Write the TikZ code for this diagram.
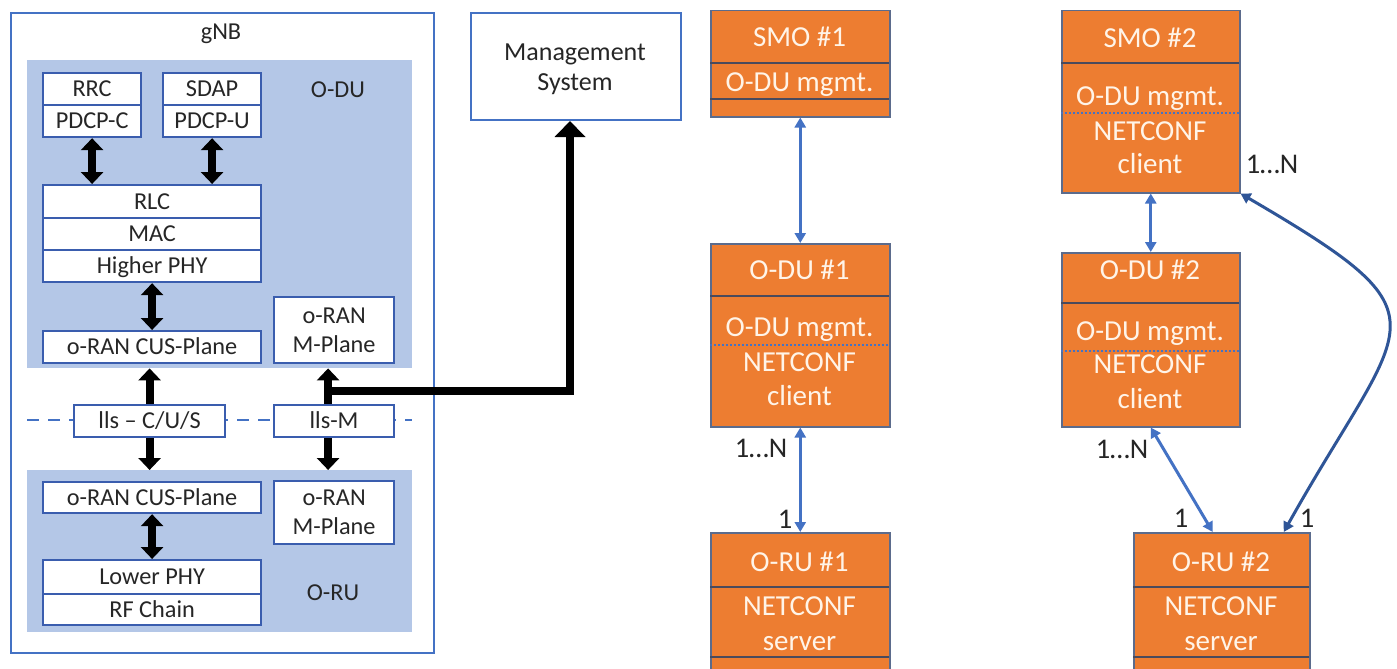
\documentclass[tikz,border=0pt]{standalone}
\usepackage{fontspec}
\setmainfont{Carlito}
\usetikzlibrary{arrows.meta}
\definecolor{frameblue}{HTML}{4472C4}
\definecolor{boxblue}{HTML}{3A5DAE}
\definecolor{regionblue}{HTML}{B4C7E7}
\definecolor{orangefill}{HTML}{ED7D31}
\definecolor{orangeedge}{HTML}{5B6B8C}
\definecolor{orangediv}{HTML}{4A4A5C}
\definecolor{orangetext}{HTML}{FFF4E8}
\definecolor{linkblue}{HTML}{4472C4}
\definecolor{curveblue}{HTML}{2F5597}
\definecolor{inktext}{HTML}{262626}

\begin{document}
\begin{tikzpicture}[x=1pt,y=-1pt,
  lefttxt/.style={font=\fontsize{24.3}{29}\selectfont, text=inktext},
  frame/.style={draw=frameblue, line width=2pt, fill=white, anchor=north west, inner sep=0pt},
  region/.style={fill=regionblue, anchor=north west, inner sep=0pt},
  layer/.style={draw=boxblue, line width=2.2pt, fill=white, anchor=north west, inner sep=0pt,
                lefttxt, text height=15pt, text depth=0pt},
  plane/.style={draw=boxblue, line width=2.2pt, fill=white, anchor=north west, inner sep=0pt,
                lefttxt, align=center},
  tag/.style={lefttxt, anchor=base, inner sep=0pt},
  obox/.style={draw=orangeedge, line width=1.5pt, fill=orangefill, anchor=north west, inner sep=0pt},
  odiv/.style={draw=orangediv, line width=1.5pt},
  odot/.style={draw=linkblue, line width=1.5pt, dash pattern=on 2pt off 2pt},
  otxt/.style={font=\fontsize{29}{33}\selectfont, text=orangetext, anchor=base, inner sep=0pt},
  lbl/.style={font=\fontsize{28.5}{33}\selectfont, text=inktext, anchor=base, inner sep=0pt},
  blk/.style={draw=black, line width=8pt, >={Triangle[width=22pt 0 0,length=12pt 0 0]}},
  link/.style={draw=linkblue, line width=3pt, >={Triangle[width=11pt 0 0,length=10pt 0 0]}},
  dashln/.style={draw=frameblue, line width=2pt, dash pattern=on 12pt off 9pt}
]
\fill[white] (0,0) rectangle (1397,669);
\useasboundingbox (0,0) rectangle (1397,669);

% ---------------- gNB split ----------------
\node[frame, minimum width=423pt, minimum height=640pt] (gnb) at (10,12) {};
\node[tag] (gnbt) at (221,40) {gNB};

\node[region, minimum width=385pt, minimum height=308pt] (odureg) at (27,60) {};
\node[region, minimum width=385pt, minimum height=162pt] (orureg) at (27,470) {};
\node[tag] (odut) at (338,97) {O-DU};
\node[tag] (orut) at (333,600) {O-RU};

% O-DU stack
\node[layer, minimum width=98pt, minimum height=32pt] (rrc) at (42,72) {RRC};
\node[layer, minimum width=98pt, minimum height=32pt] (pdcpc) at (42,104) {PDCP-C};
\node[layer, minimum width=98pt, minimum height=32pt] (sdap) at (162,72) {SDAP};
\node[layer, minimum width=98pt, minimum height=32pt] (pdcpu) at (162,104) {PDCP-U};
\node[layer, minimum width=218pt, minimum height=33pt] (rlc) at (42,184) {RLC};
\node[layer, minimum width=218pt, minimum height=32pt] (mac) at (42,217) {MAC};
\node[layer, minimum width=218pt, minimum height=32pt] (hphy) at (42,249) {Higher PHY};
\node[layer, minimum width=218pt, minimum height=32pt] (cusdu) at (42,330) {o-RAN CUS-Plane};
\node[plane, minimum width=120pt, minimum height=66pt] (mpdu) at (273,296) {o-RAN\\M-Plane};

% split line and interfaces
\draw[dashln] (odureg.west |- 0,420) -- (odureg.east |- 0,420);
\node[layer, minimum width=151pt, minimum height=32pt] (ilscus) at (73,404) {lls – C/U/S};
\node[layer, minimum width=120pt, minimum height=32pt] (ilsm) at (273,404) {lls-M};

% O-RU stack
\node[layer, minimum width=218pt, minimum height=31pt] (cusru) at (42,481) {o-RAN CUS-Plane};
\node[plane, minimum width=120pt, minimum height=63pt] (mpru) at (273,480) {o-RAN\\M-Plane};
\node[layer, minimum width=218pt, minimum height=34pt] (lphy) at (42,559) {Lower PHY};
\node[layer, minimum width=218pt, minimum height=31pt] (rfc) at (42,593) {RF Chain};

% thick black connectors
\draw[blk,<->] (pdcpc.south) -- (rlc.north -| pdcpc.south);
\draw[blk,<->] (pdcpu.south) -- (rlc.north -| pdcpu.south);
\draw[blk,<->] (hphy.south) -- (cusdu.north);
\draw[blk,->] (ilscus.north) -- (ilscus.north |- odureg.south);
\draw[blk,->] (ilscus.south) -- (ilscus.south |- orureg.north);
\draw[blk,->] ([xshift=-6pt]ilsm.north) -- ([xshift=-6pt]ilsm.north |- odureg.south);
\draw[blk,->] ([xshift=-6pt]ilsm.south) -- ([xshift=-6pt]ilsm.south |- orureg.north);
\draw[blk,<->] (cusru.south) -- (lphy.north);

% management system
\node[frame, minimum width=210pt, minimum height=107pt] (ms) at (470,12) {};
\node[tag, font=\fontsize{26}{30}\selectfont] (mst1) at (575,60) {Management};
\node[tag, font=\fontsize{26}{30}\selectfont] (mst2) at (575,90) {System};
\coordinate (mj) at (327,391);
\draw[blk,->,>={Triangle[width=30pt 0 0,length=16pt 0 0]}] (mj) -| ([xshift=-6pt]ms.south);

% ---------------- deployment #1 ----------------
\node[obox, minimum width=179pt, minimum height=106pt] (smo1) at (710,10) {};
\draw[odiv] (710,63) -- (889,63);
\draw[odiv] (710,99) -- (889,99);
\node[obox, minimum width=179pt, minimum height=183pt] (odu1) at (710,243) {};
\draw[odiv] (710,296) -- (889,296);
\draw[odot] (710,345) -- (889,345);
\node[obox, minimum width=179pt, minimum height=150pt] (oru1) at (710,532) {};
\draw[odiv] (710,587) -- (889,587);
\draw[odiv] (710,657) -- (889,657);

\node[otxt] (smo1a) at (799.5,47) {SMO \#1};
\node[otxt] (smo1b) at (799.5,91) {O-DU mgmt.};
\node[otxt] (odu1a) at (799.5,279) {O-DU \#1};
\node[otxt] (odu1b) at (799.5,336) {O-DU mgmt.};
\node[otxt] (odu1c) at (799.5,371) {NETCONF};
\node[otxt] (odu1d) at (799.5,405) {client};
\node[otxt] (oru1a) at (799.5,571) {O-RU \#1};
\node[otxt] (oru1b) at (799.5,615) {NETCONF};
\node[otxt] (oru1c) at (799.5,650) {server};

\draw[link,<->] (smo1.south) -- (odu1.north);
\draw[link,<->] (odu1.south) -- (oru1.north);
\node[lbl] (n1a) at (761,457) {1…N};
\node[lbl] (n1b) at (785,528) {1};

% ---------------- deployment #2 ----------------
\node[obox, minimum width=178pt, minimum height=182pt] (smo2) at (1061,10) {};
\draw[odiv] (1061,63) -- (1239,63);
\draw[odot] (1061,113) -- (1239,113);
\node[obox, minimum width=178pt, minimum height=174pt] (odu2) at (1061,252) {};
\draw[odiv] (1061,303) -- (1239,303);
\draw[odot] (1061,351) -- (1239,351);
\node[obox, minimum width=176pt, minimum height=150pt] (oru2) at (1133,532) {};
\draw[odiv] (1133,587) -- (1309,587);
\draw[odiv] (1133,657) -- (1309,657);

\node[otxt] (smo2a) at (1150,48) {SMO \#2};
\node[otxt] (smo2b) at (1150,105) {O-DU mgmt.};
\node[otxt] (smo2c) at (1150,140) {NETCONF};
\node[otxt] (smo2d) at (1150,173) {client};
\node[otxt] (odu2a) at (1150,279) {O-DU \#2};
\node[otxt] (odu2b) at (1150,340) {O-DU mgmt.};
\node[otxt] (odu2c) at (1150,373) {NETCONF};
\node[otxt] (odu2d) at (1150,408) {client};
\node[otxt] (oru2a) at (1221,571) {O-RU \#2};
\node[otxt] (oru2b) at (1221,615) {NETCONF};
\node[otxt] (oru2c) at (1221,650) {server};

\draw[link,<->] (smo2.south) -- (odu2.north);
\draw[link,<->] (odu2.south) -- ([xshift=-9pt]oru2.north);
\draw[link,draw=curveblue,<->] ([xshift=62pt]oru2.north)
  .. controls (1405.5,314.5) and (1456,319.5) .. (smo2.south east);
\node[lbl] (n2a) at (1272,173) {1…N};
\node[lbl] (n2b) at (1122,458) {1…N};
\node[lbl] (n2c) at (1181,527) {1};
\node[lbl] (n2d) at (1307,527) {1};
\end{tikzpicture}
\end{document}
